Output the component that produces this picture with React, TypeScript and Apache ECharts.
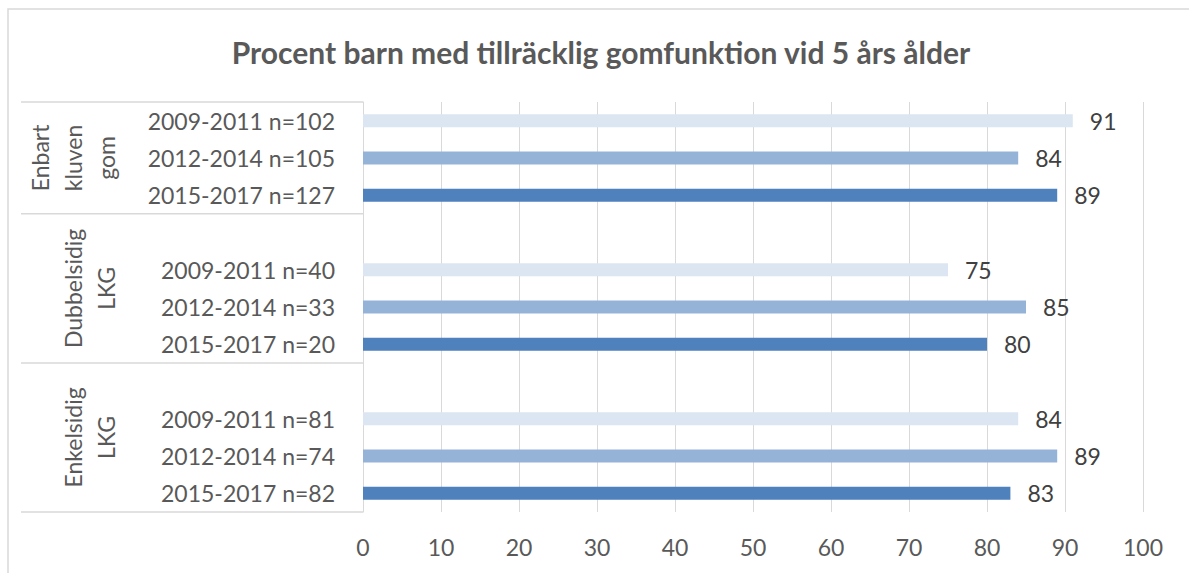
import React, { useEffect, useRef } from "react";
import * as echarts from "echarts";

const categories = [
  "2009-2011 n=102",
  "2012-2014 n=105",
  "2015-2017 n=127",
  " ",
  "2009-2011 n=40",
  "2012-2014 n=33",
  "2015-2017 n=20",
  "  ",
  "2009-2011 n=81",
  "2012-2014 n=74",
  "2015-2017 n=82",
];
const values: (number | null)[] = [91, 84, 89, null, 75, 85, 80, null, 84, 89, 83];
const periods = ["2009-2011", "2012-2014", "2015-2017"];
const periodColors = ["#dce6f2", "#95b3d7", "#4f81bd"];
const groupLabels = [["Enbart", "kluven", "gom"], ["Dubbelsidig", "LKG"], ["Enkelsidig", "LKG"]];
const groupSpans = [[0, 2], [3, 6], [7, 10]];
const xTicks = [0, 10, 20, 30, 40, 50, 60, 70, 80, 90, 100];
const titleText = "Procent barn med tillräcklig gomfunktion vid 5 års ålder";

const FONT = "Lato, 'Open Sans', sans-serif";

export default function App() {
  const ref = useRef<HTMLDivElement>(null);
  useEffect(() => {
    const chart = echarts.init(ref.current!, null, { renderer: "svg" });
    const data = values.map((v, i) => {
      const p = periods.findIndex((pp) => categories[i].startsWith(pp));
      return v == null ? null : { value: v, itemStyle: { color: periodColors[p] } };
    });
    const gridLeft = 363;
    const option: any = {
      animation: false,
      backgroundColor: "#ffffff",
      title: {
        text: titleText,
        left: 596,
        textAlign: "center",
        top: 32,
        textStyle: { fontFamily: FONT, fontSize: 30, fontWeight: "bold", color: "#595959" },
      },
      grid: { left: gridLeft, right: 46, top: 102, bottom: 61, containLabel: false },
      xAxis: {
        type: "value",
        min: xTicks[0],
        max: xTicks[xTicks.length - 1],
        interval: 10,
        axisLine: { show: false },
        axisTick: { show: false },
        splitLine: { show: true, lineStyle: { color: "#d9d9d9", width: 1 } },
        axisLabel: { fontFamily: FONT, fontSize: 23, color: "#595959", margin: 23 },
      },
      yAxis: {
        type: "category",
        inverse: true,
        data: categories,
        axisLine: { show: true, lineStyle: { color: "#d9d9d9", width: 1 } },
        axisTick: { show: false },
        axisLabel: { fontFamily: FONT, fontSize: 23, color: "#595959", margin: 28 },
      },
      series: [
        {
          type: "bar",
          data,
          barWidth: 13,
          label: {
            show: true,
            position: "right",
            distance: 17,
            fontFamily: FONT,
            fontSize: 23,
            color: "#404040",
          },
        },
      ],
    };
    chart.setOption(option);

    const c0 = chart.convertToPixel({ yAxisIndex: 0 }, 0) as number;
    const c1 = chart.convertToPixel({ yAxisIndex: 0 }, 1) as number;
    const slot = c1 - c0;
    const elements: any[] = [
      {
        type: "rect",
        shape: { x: 8, y: 9, width: 1400, height: 800 },
        style: { fill: "none", stroke: "#d9d9d9", lineWidth: 1.5 },
        silent: true,
      },
    ];
    groupSpans.forEach(([s, e], gi) => {
      const top = (chart.convertToPixel({ yAxisIndex: 0 }, s) as number) - slot / 2;
      const bottom = (chart.convertToPixel({ yAxisIndex: 0 }, e) as number) + slot / 2;
      if (gi === 0) {
        elements.push({
          type: "line",
          shape: { x1: 21, y1: top, x2: gridLeft, y2: top },
          style: { stroke: "#d9d9d9", lineWidth: 1.5 },
          silent: true,
        });
      }
      elements.push({
        type: "line",
        shape: { x1: 21, y1: bottom, x2: gridLeft, y2: bottom },
        style: { stroke: "#d9d9d9", lineWidth: 1.5 },
        silent: true,
      });
      const lines = groupLabels[gi];
      const mid = (top + bottom) / 2;
      lines.forEach((ln, k) => {
        elements.push({
          type: "text",
          x: 106 - (lines.length - 1 - k) * 33,
          y: mid,
          rotation: Math.PI / 2,
          style: {
            text: ln,
            fontFamily: FONT,
            fontSize: 23,
            fill: "#595959",
            align: "center",
            verticalAlign: "middle",
          },
          silent: true,
        });
      });
    });
    chart.setOption({ graphic: { elements } });
    return () => chart.dispose();
  }, []);
  return (
    <div
      ref={ref}
      style={{ position: "fixed", left: 0, top: 0, width: 1189, height: 573 }}
    />
  );
}
